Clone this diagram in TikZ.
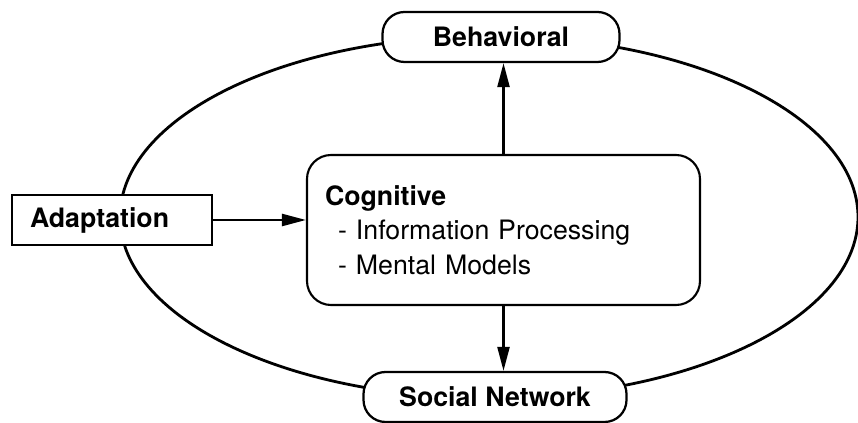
\documentclass[tikz,border=0pt]{standalone}
\usepackage{fontspec}
\setmainfont{TeX Gyre Heros}
\usetikzlibrary{arrows.meta,positioning}

\begin{document}
\begin{tikzpicture}[
  font=\fontsize{19}{24.5}\selectfont,
  blk/.style={draw,line width=1.6pt,fill=white,minimum height=1.25cm,inner sep=0pt,
              font=\fontsize{19}{24.5}\selectfont\bfseries},
  pill/.style={blk,rounded corners=0.55cm},
  cogbox/.style={draw,line width=1.5pt,fill=white,rounded corners=0.6cm,
                 minimum width=9.825cm,minimum height=3.75cm,
                 text width=8.925cm,align=left,inner xsep=0.45cm},
  a/.style={-{Triangle[length=6mm,width=3mm]},line width=1.7pt},
  ring/.style={line width=2pt}]
\useasboundingbox[fill=white] (0,0) rectangle (21.45,10.575);

% ------------------------------ outer cycle -------------------------------
\draw[ring] (12.225,5.15) ellipse [x radius=9.225cm, y radius=4.525cm];

% -------------------------------- blocks ----------------------------------
\node[pill,minimum width=5.925cm] (beh) at (12.525,9.65) {Behavioral};
\node[blk,minimum width=5.0cm,text width=4.1cm,align=left,inner xsep=0.45cm]
  (adapt) at (2.8,5.075) {Adaptation};
\node[cogbox] (cog) at (12.5875,4.825)
  {\textbf{Cognitive}\\
   \hspace*{0.33cm}- Information Processing\\
   \hspace*{0.33cm}- Mental Models};
\node[pill,minimum width=6.575cm] (soc) at (12.375,0.65) {Social Network};

% -------------------------------- arrows ----------------------------------
\draw[a] (adapt.east) -- (adapt.east -| cog.west);
\draw[a] (cog.north) -- (cog.north |- beh.south);
\draw[a] (cog.south) -- (cog.south |- soc.north);
\end{tikzpicture}
\end{document}
